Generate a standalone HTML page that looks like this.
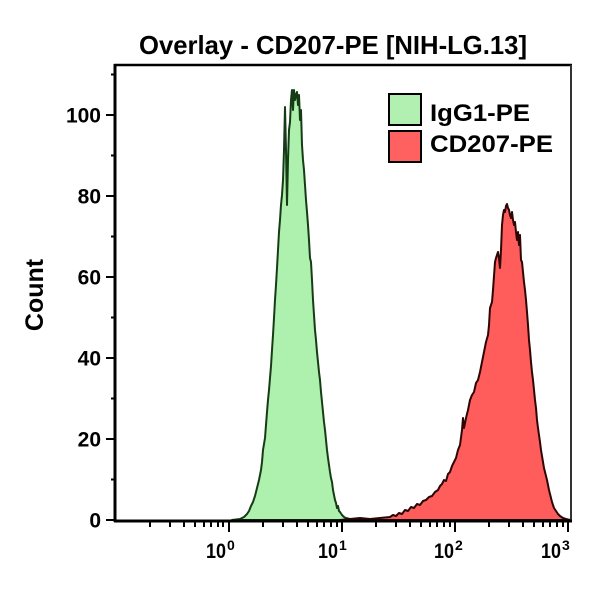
<!DOCTYPE html>
<html><head><meta charset="utf-8"><style>
html,body{margin:0;padding:0;background:#fff;}
svg{display:block;}
text{font-family:"Liberation Sans",Arial,sans-serif;font-weight:bold;fill:#000;}
</style></head><body>
<svg width="600" height="600" viewBox="0 0 600 600" xmlns="http://www.w3.org/2000/svg">
<rect width="600" height="600" fill="#fff"/>
<text x="333" y="54" font-size="26" text-anchor="middle" textLength="388" lengthAdjust="spacingAndGlyphs">Overlay - CD207-PE [NIH-LG.13]</text>

<!-- green histogram -->
<path fill="#aef0ae" stroke="#163c16" stroke-width="2" stroke-linejoin="round" d="M232,520 L240,519 244,517 247,514 249,511 251,506 253,502 255,496 257,488 259,480 261,470 262,462 263,450 265,438 266,425 267,412 268,400 269,390 270,378 271,366 272,350 273,335 274,318 275,300 276,285 277,268 278,250 279,232 280,220 281,205 282,195 283,180 284,150 285,107 286,150 287,205 288,160 289,130 290,122 291,100 292,90 293,110 294,90 295,100 296,95 297,92 298,105 299,95 300,120 301,110 302,145 303,160 304,170 305,185 306,200 307,212 308,225 309,240 310,258 311,262 312,280 313,300 314,315 315,330 316,340 317,352 318,362 319,372 320,380 321,392 322,402 323,412 324,422 325,430 326,440 327,450 328,458 329,465 330,472 331,478 332,482 333,490 334,495 335,500 336,503 337,508 338,506 339,511 340,512 342,515 344,517 346,518 350,519 355,520 Z"/>

<!-- red histogram -->
<path fill="#ff5c5c" stroke="#2e0606" stroke-width="2" stroke-linejoin="round" d="M340,520 L350,519 360,518 370,519 380,518 390,517 393,515 396,516 399,513 402,514 405,510 408,511 411,507 414,508 417,504 420,505 423,501 426,500 429,497 432,496 435,492 438,490 440,486 442,484 444,480 446,481 448,474 450,472 452,466 454,462 456,458 458,450 460,445 462,430 463,418 464,428 466,418 468,410 470,400 472,395 474,392 476,383 478,380 480,372 482,362 484,352 486,342 488,335 489,325 490,308 491,305 492,302 493,290 494,276 495,262 496,258 497,255 498,252 499,258 500,268 501,250 502,225 503,215 504,210 505,212 506,206 507,204 508,208 509,210 510,215 511,218 512,212 513,220 514,225 515,222 516,232 517,240 518,232 519,245 520,235 521,260 522,262 523,272 524,282 525,290 526,300 527,312 528,325 529,340 530,350 531,362 532,372 533,380 534,390 535,400 536,408 537,420 538,428 539,435 540,442 541,450 542,456 543,462 544,468 545,472 546,476 547,480 548,485 549,490 550,494 551,498 552,502 553,505 554,508 556,511 558,514 560,516 563,518 566,519 570,520 Z"/>

<!-- frame -->
<line x1="114" y1="65" x2="572" y2="65" stroke="#000" stroke-width="2.5"/>
<line x1="571" y1="65" x2="571" y2="522" stroke="#333" stroke-width="2"/>
<line x1="115" y1="64" x2="115" y2="522" stroke="#000" stroke-width="3"/>
<line x1="114" y1="521" x2="572" y2="521" stroke="#000" stroke-width="3"/>

<!-- y ticks -->
<g stroke="#000" stroke-width="2">
<line x1="106" y1="520" x2="115" y2="520"/>
<line x1="106" y1="439" x2="115" y2="439"/>
<line x1="106" y1="358" x2="115" y2="358"/>
<line x1="106" y1="277" x2="115" y2="277"/>
<line x1="106" y1="196" x2="115" y2="196"/>
<line x1="106" y1="115" x2="115" y2="115"/>
<line x1="111" y1="479.5" x2="115" y2="479.5"/>
<line x1="111" y1="398.5" x2="115" y2="398.5"/>
<line x1="111" y1="317.5" x2="115" y2="317.5"/>
<line x1="111" y1="236.5" x2="115" y2="236.5"/>
<line x1="111" y1="155.5" x2="115" y2="155.5"/>
<line x1="111" y1="74.5" x2="115" y2="74.5"/>
</g>
<g font-size="21" text-anchor="end">
<text x="101" y="527.5">0</text>
<text x="101" y="446.5">20</text>
<text x="101" y="365.5">40</text>
<text x="101" y="284.5">60</text>
<text x="101" y="203.5">80</text>
<text x="101" y="122.5">100</text>
</g>
<text transform="translate(43,295) rotate(-90)" font-size="25" text-anchor="middle">Count</text>

<!-- x ticks -->
<g stroke="#000" stroke-width="2">
<line x1="229" y1="521" x2="229" y2="532"/>
<line x1="342" y1="521" x2="342" y2="532"/>
<line x1="455" y1="521" x2="455" y2="532"/>
<line x1="568" y1="521" x2="568" y2="532"/>
<line x1="150" y1="521" x2="150" y2="527"/><line x1="170" y1="521" x2="170" y2="527"/><line x1="184" y1="521" x2="184" y2="527"/><line x1="195" y1="521" x2="195" y2="527"/><line x1="204" y1="521" x2="204" y2="527"/><line x1="211" y1="521" x2="211" y2="527"/><line x1="218" y1="521" x2="218" y2="527"/><line x1="223" y1="521" x2="223" y2="527"/>
<line x1="263" y1="521" x2="263" y2="527"/><line x1="283" y1="521" x2="283" y2="527"/><line x1="297" y1="521" x2="297" y2="527"/><line x1="308" y1="521" x2="308" y2="527"/><line x1="317" y1="521" x2="317" y2="527"/><line x1="324" y1="521" x2="324" y2="527"/><line x1="331" y1="521" x2="331" y2="527"/><line x1="337" y1="521" x2="337" y2="527"/>
<line x1="376" y1="521" x2="376" y2="527"/><line x1="396" y1="521" x2="396" y2="527"/><line x1="410" y1="521" x2="410" y2="527"/><line x1="421" y1="521" x2="421" y2="527"/><line x1="430" y1="521" x2="430" y2="527"/><line x1="437" y1="521" x2="437" y2="527"/><line x1="444" y1="521" x2="444" y2="527"/><line x1="450" y1="521" x2="450" y2="527"/>
<line x1="489" y1="521" x2="489" y2="527"/><line x1="509" y1="521" x2="509" y2="527"/><line x1="523" y1="521" x2="523" y2="527"/><line x1="534" y1="521" x2="534" y2="527"/><line x1="543" y1="521" x2="543" y2="527"/><line x1="550" y1="521" x2="550" y2="527"/><line x1="557" y1="521" x2="557" y2="527"/><line x1="563" y1="521" x2="563" y2="527"/>
</g>
<g font-size="21">
<text x="206" y="558" textLength="20" lengthAdjust="spacingAndGlyphs">10</text><text x="227" y="550" font-size="14">0</text>
<text x="318" y="558" textLength="20" lengthAdjust="spacingAndGlyphs">10</text><text x="339" y="550" font-size="14">1</text>
<text x="434" y="558" textLength="20" lengthAdjust="spacingAndGlyphs">10</text><text x="455" y="550" font-size="14">2</text>
<text x="541" y="558" textLength="20" lengthAdjust="spacingAndGlyphs">10</text><text x="562" y="550" font-size="14">3</text>
</g>

<!-- legend -->
<rect x="389" y="94" width="32" height="31" fill="#b2f0b2" stroke="#000" stroke-width="2"/>
<rect x="389" y="131" width="32" height="31" fill="#ff6060" stroke="#000" stroke-width="2"/>
<text x="430" y="121" font-size="24" textLength="100" lengthAdjust="spacingAndGlyphs">IgG1-PE</text>
<text x="430" y="152" font-size="24" textLength="123" lengthAdjust="spacingAndGlyphs">CD207-PE</text>
</svg>
</body></html>
